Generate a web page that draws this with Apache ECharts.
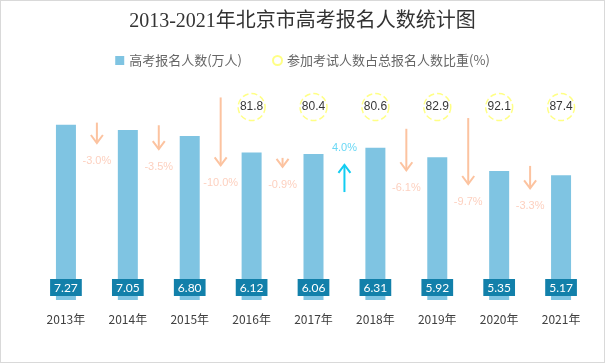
<!DOCTYPE html>
<html><head><meta charset="utf-8">
<script src="https://cdn.jsdelivr.net/npm/echarts@6/dist/echarts.min.js"></script>
<style>
html,body{margin:0;padding:0;background:#fff;}
#c{width:603px;height:361px;border:1px solid #d9d9d9;}
</style></head>
<body><div id="c"></div>
<script>
const years = ['2013年','2014年','2015年','2016年','2017年','2018年','2019年','2020年','2021年'];
const applicants = [7.27, 7.05, 6.80, 6.12, 6.06, 6.31, 5.92, 5.35, 5.17];
const changes = [-3.0, -3.5, -10.0, -0.9, 4.0, -6.1, -9.7, -3.3];
const ratios = [null, null, null, 81.8, 80.4, 80.6, 82.9, 92.1, 87.4];
const RATIO_ROW = 8.0;

const chart = echarts.init(document.getElementById('c'));
const arrowData = changes.map((p, i) => [i, p]);
const ratioData = ratios.map((r, i) => r == null ? null : [i, RATIO_ROW]).filter(d => d);

chart.setOption({
  animation: false,
  title: {
    text: '2013-2021年北京市高考报名人数统计图',
    left: 'center', top: 6,
    textStyle: {fontFamily: '"Liberation Serif","Noto Sans CJK SC",serif', fontSize: 20, fontWeight: 'normal', color: '#333'}
  },
  legend: {
    top: 48, left: 'center', itemGap: 30, itemWidth: 9, itemHeight: 9,
    textStyle: {fontSize: 13, color: '#666', fontFamily: '"Noto Sans CJK SC",sans-serif'},
    data: [
      {name: '高考报名人数(万人)', icon: 'rect'},
      {name: '参加考试人数占总报名人数比重(%)', icon: 'circle'}
    ]
  },
  grid: {left: 34, right: 12, top: 82, bottom: 62},
  xAxis: {
    type: 'category', data: years,
    axisLine: {show: false}, axisTick: {show: false},
    axisLabel: {color: '#404040', fontSize: 12, margin: 13, fontFamily: '"Noto Sans CJK SC",sans-serif'}
  },
  yAxis: {type: 'value', min: 0, max: 9, show: false, splitLine: {show: false}},
  series: [
    {
      name: '高考报名人数(万人)', type: 'bar', data: applicants, barWidth: 20,
      itemStyle: {color: '#7fc4e2'},
      label: {
        show: true, position: 'insideBottom', distance: 4,
        formatter: p => p.value.toFixed(2),
        backgroundColor: '#1280aa', color: '#fff', padding: [3, 4, 2, 4],
        fontSize: 12, fontFamily: 'Lato, sans-serif'
      }
    },
    {
      name: '参加考试人数占总报名人数比重(%)', type: 'scatter', data: ratioData,
      symbol: 'circle', symbolSize: 27,
      itemStyle: {color: '#fff', borderColor: '#ffff66', borderWidth: 1.5, borderType: 'dashed'},
      label: {
        show: true, position: 'inside', color: '#000', fontSize: 12,
        fontFamily: '"Liberation Sans",sans-serif',
        formatter: p => ratios[p.value[0]].toFixed(1)
      },
      z: 3
    },
    {
      type: 'custom', data: arrowData, silent: true, z: 4,
      renderItem: function (params, api) {
        const i = api.value(0), pct = api.value(1);
        const x = (api.coord([i, 0])[0] + api.coord([i + 1, 0])[0]) / 2;
        const nextTop = api.coord([i + 1, applicants[i + 1]])[1];
        const L = Math.max(9, Math.abs(pct) * 6.8);
        const up = pct > 0;
        const col = up ? '#12cdf2' : '#fcc3a0';
        const txtCol = up ? '#6ad8f5' : '#fdd0bf';
        let y1, y2, head, ty;
        if (!up) {
          y2 = nextTop + 13; y1 = y2 - L; head = y2; ty = y2 + 18;
        } else {
          y1 = nextTop + 17; y2 = y1 + L; head = y1; ty = y1 - 17;
        }
        const hs = up ? 8 : -8;
        return {
          type: 'group',
          children: [
            {type: 'line', shape: {x1: x, y1: y1, x2: x, y2: y2}, style: {stroke: col, lineWidth: 2}},
            {type: 'polyline', shape: {points: [[x - 6, head + hs], [x, head], [x + 6, head + hs]]}, style: {stroke: col, lineWidth: 2, fill: null}},
            {type: 'text', style: {x: x, y: ty, text: pct.toFixed(1) + '%', fill: txtCol, fontSize: 11, align: 'center', verticalAlign: 'middle', fontFamily: '"Liberation Sans",sans-serif'}}
          ]
        };
      }
    }
  ]
});
</script></body></html>
